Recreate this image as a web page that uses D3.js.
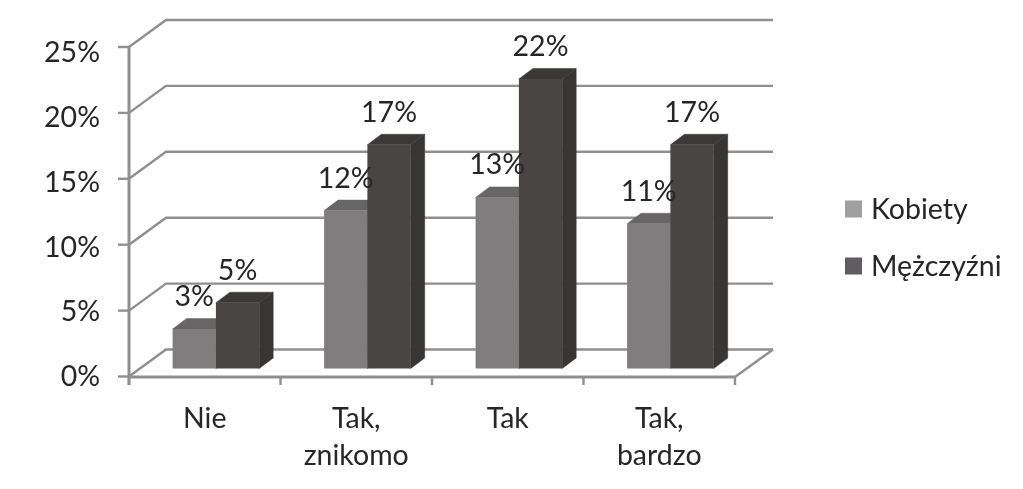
<!DOCTYPE html>
<html><head><meta charset="utf-8">
<script src="https://cdnjs.cloudflare.com/ajax/libs/d3/7.8.5/d3.min.js"></script>
<style>html,body{margin:0;padding:0;background:#fff}svg{display:block}text{font-family:Lato,"Open Sans",sans-serif;fill:#262626}</style>
</head><body><div id="c"></div>
<script>
const categories = [["Nie"],["Tak,","znikomo"],["Tak"],["Tak,","bardzo"]];
const seriesNames = ["Kobiety","Mężczyźni"];
const kobiety = [3,12,13,11];
const mezczyzni = [5,17,22,17];
const yTicks = [0,5,10,15,20,25];

const W=1023,H=489,fs=28.5;
const svg=d3.select("#c").append("svg").attr("width",W).attr("height",H);
const depthX=37, depthY=27, barDX=14, barDY=10.5;
const keys=categories.map((c,i)=>i);
const x0=d3.scaleBand().domain(keys).range([129,735]);
const x1=d3.scaleBand().domain(seriesNames).range([43.6,130.2]);
const y=d3.scaleLinear().domain([0,25]).range([376.5,47]);
const yBar=d3.scaleLinear().domain([0,25]).range([368.5,39.5]);
const yLab=d3.scaleLinear().domain([0,25]).range([376,52]);
const grid="#8f8f8f";
svg.append("defs").append("filter").attr("id","soft").append("feGaussianBlur").attr("stdDeviation",0.45);
const g=svg.append("g").attr("filter","url(#soft)");
// walls
yTicks.forEach(t=>{
  g.append("path").attr("fill","none").attr("stroke",grid).attr("stroke-width",2.4)
   .attr("d",`M129,${y(t)}L${129+depthX},${y(t)-depthY}L773,${y(t)-depthY}`);
  g.append("line").attr("x1",118).attr("x2",129).attr("y1",y(t)).attr("y2",y(t)).attr("stroke",grid).attr("stroke-width",2.4);
  g.append("text").attr("x",100).attr("y",yLab(t)).attr("dy","0.36em").attr("text-anchor","end").attr("font-size",fs).text(t+"%");
});
g.append("line").attr("x1",129).attr("x2",129).attr("y1",y(25)).attr("y2",385).attr("stroke",grid).attr("stroke-width",3);
g.append("line").attr("x1",129).attr("x2",735).attr("y1",377).attr("y2",377).attr("stroke",grid).attr("stroke-width",3);
g.append("line").attr("x1",735).attr("x2",773).attr("y1",377).attr("y2",349.5).attr("stroke",grid).attr("stroke-width",2.4);
keys.concat([4]).forEach(i=>{
  const px=i<4?x0(i):x0.range()[1];
  g.append("line").attr("x1",px).attr("x2",px).attr("y1",377).attr("y2",385).attr("stroke",grid).attr("stroke-width",2.4);
});
// bars
const styles={"Kobiety":{front:"#7f7d7e",top:"#676566",side:"#5a5859"},"Mężczyźni":{front:"#484445",top:"#3c3839",side:"#373435"}};
const rows=seriesNames.map((s,si)=>({s,vals:si===0?kobiety:mezczyzni}));
keys.forEach(i=>{
 rows.forEach(r=>{
  const v=r.vals[i],c=styles[r.s];
  const xl=x0(i)+x1(r.s),w=x1.bandwidth(),xr=xl+w,t=yBar(v),b=yBar(0);
  g.append("path").attr("fill",c.side).attr("stroke",c.side).attr("stroke-width",0.5).attr("d",`M${xr},${t}L${xr+barDX},${t-barDY}L${xr+barDX},${b-barDY}L${xr},${b}Z`);
  g.append("path").attr("fill",c.top).attr("stroke",c.top).attr("stroke-width",0.5).attr("d",`M${xl},${t}L${xl+barDX},${t-barDY}L${xr+barDX},${t-barDY}L${xr},${t}Z`);
  g.append("rect").attr("x",xl).attr("y",t).attr("width",w).attr("height",b-t).attr("fill",c.front);
 });
});
// value labels
keys.forEach(i=>{
 rows.forEach(r=>{
  const v=r.vals[i];
  g.append("text").attr("x",x0(i)+x1(r.s)+x1.bandwidth()/2).attr("y",yBar(v)-23).attr("text-anchor","middle").attr("font-size",fs).text(v+"%");
 });
});
// category labels
categories.forEach((c,i)=>{
  c.forEach((line,j)=>{
    g.append("text").attr("x",x0(i)+x0.bandwidth()/2).attr("y",418+37*j).attr("dy","0.36em").attr("text-anchor","middle").attr("font-size",fs).text(line);
  });
});
// legend
const legColors=["#9f9f9f","#5f5d5e"], legY=[209,266];
seriesNames.forEach((s,i)=>{
  g.append("rect").attr("x",845).attr("y",legY[i]-8.5).attr("width",17).attr("height",17).attr("fill",legColors[i]);
  g.append("text").attr("x",871).attr("y",legY[i]).attr("dy","0.36em").attr("font-size",fs).text(s);
});
</script></body></html>
